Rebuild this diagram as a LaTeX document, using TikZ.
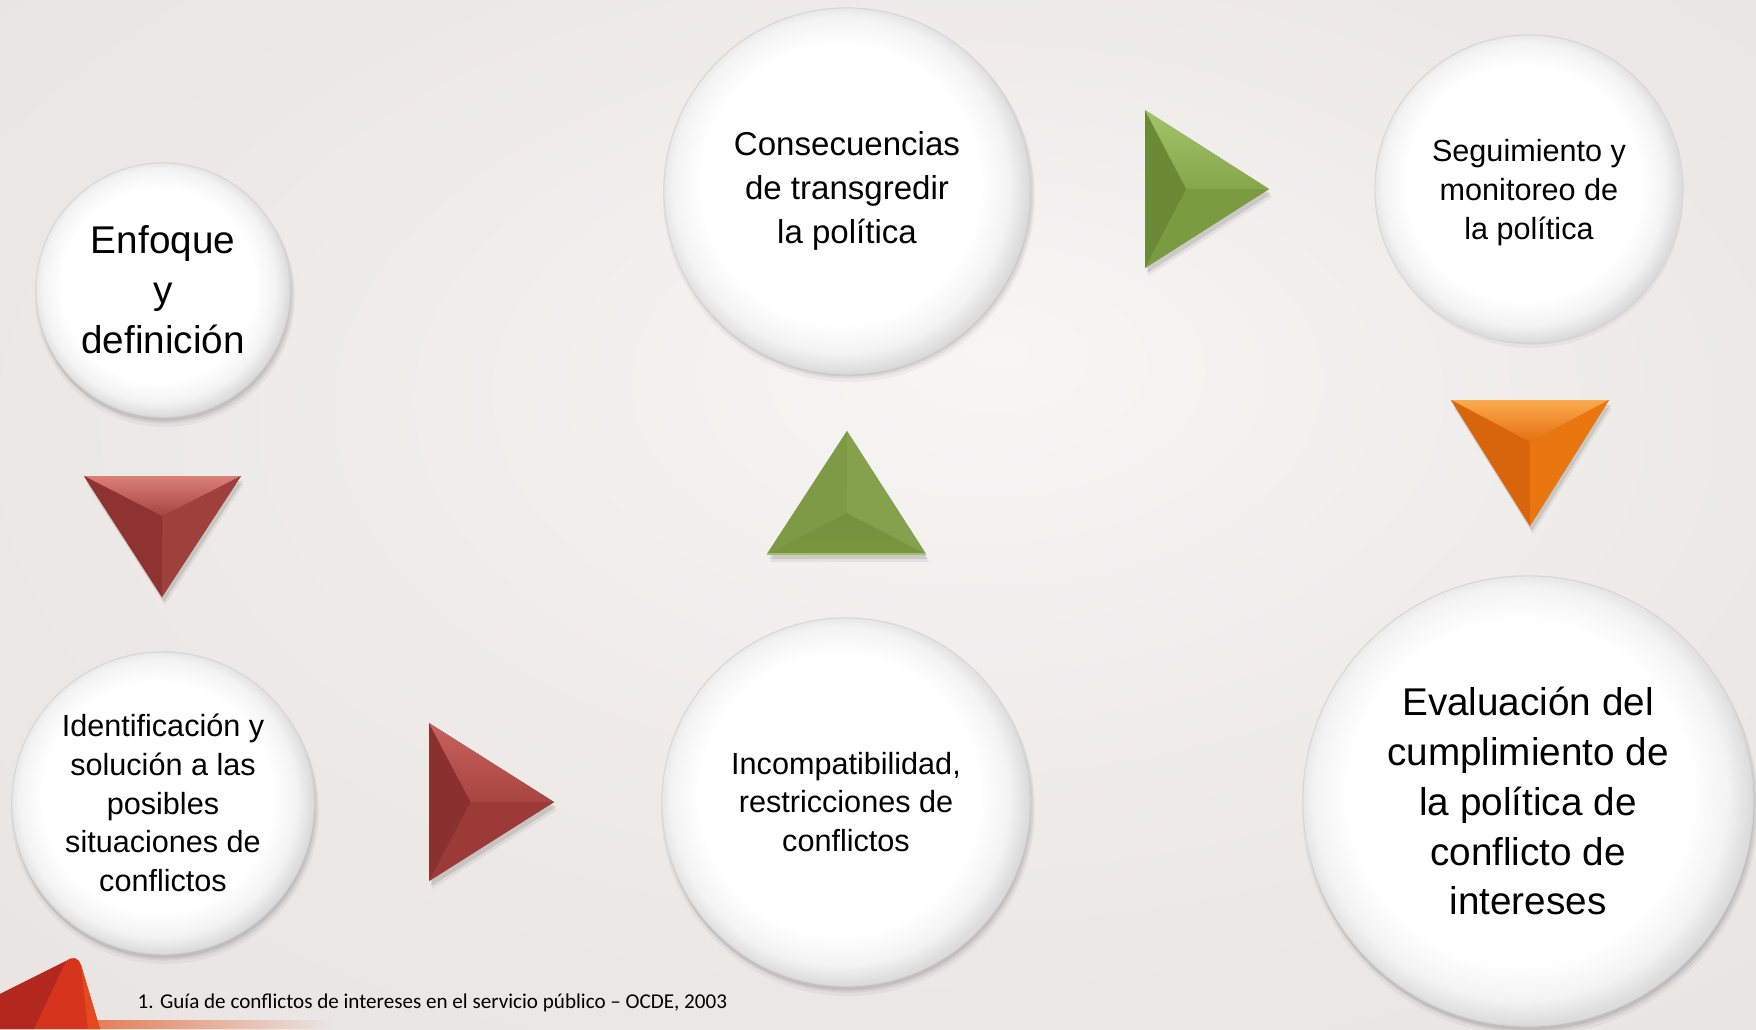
\documentclass[tikz,border=0pt]{standalone}
\usepackage{fontspec}
\setmainfont{Liberation Sans}
\newfontfamily\calib{Carlito}
\usetikzlibrary{fadings}
\definecolor{bgA}{HTML}{F7F6F4}
\definecolor{bgB}{HTML}{EBE8E5}
\definecolor{bgC}{HTML}{E4E1DE}
\definecolor{rimA}{HTML}{F3F3F3}
\definecolor{rimB}{HTML}{DCDCDC}
\definecolor{rimC}{HTML}{D6D6D6}
% red
\definecolor{redBase}{RGB}{154,58,55}
\definecolor{redLight}{RGB}{217,128,122}
\definecolor{redMid}{RGB}{165,67,63}
\definecolor{redDark}{RGB}{142,51,48}
\definecolor{redSide}{RGB}{160,64,60}
\definecolor{redDark2}{RGB}{138,48,46}
\definecolor{redLight2}{RGB}{201,98,92}
\definecolor{redMid2}{RGB}{168,69,65}
\definecolor{redLow}{RGB}{155,58,55}
% green
\definecolor{grBase}{RGB}{122,152,65}
\definecolor{grBotA}{RGB}{116,146,60}
\definecolor{grBotB}{RGB}{120,150,62}
\definecolor{grLeft}{RGB}{125,154,68}
\definecolor{grRight}{RGB}{132,162,75}
\definecolor{grEdge}{RGB}{160,192,108}
\definecolor{grDark}{RGB}{108,138,54}
\definecolor{grLight}{RGB}{163,196,106}
\definecolor{grMid}{RGB}{134,166,74}
\definecolor{grLow}{RGB}{123,155,65}
% orange
\definecolor{orBase}{RGB}{228,112,15}
\definecolor{orLight}{RGB}{251,170,78}
\definecolor{orLeft}{RGB}{216,101,12}
\definecolor{orRight}{RGB}{234,118,15}
% corner
\definecolor{cBand}{RGB}{229,84,30}
\definecolor{cMain}{RGB}{214,52,28}
\definecolor{cDark}{RGB}{178,40,30}
\definecolor{cLight}{RGB}{228,74,30}
\pgfdeclareradialshading{bgsh}{\pgfpoint{3.5bp}{8bp}}{color(0bp)=(bgA); color(25bp)=(bgB); color(50bp)=(bgC)}
\pgfdeclareradialshading{discsh}{\pgfpoint{-1.5bp}{1.5bp}}{color(0bp)=(white); color(19bp)=(white); color(23bp)=(rimA); color(25.5bp)=(rimB); color(50bp)=(rimB)}
\newcommand\bubshadow[3]{%
  \fill[black,opacity=.04] (#1+2,#2+7) circle[radius={(#3+3)*0.01cm}];
  \fill[black,opacity=.06] (#1+2,#2+5) circle[radius={(#3+1.5)*0.01cm}];
  \fill[black,opacity=.08] (#1+1,#2+4) circle[radius={(#3+0.3)*0.01cm}];}
\newcommand\deftri[4]{%
  \coordinate (#4a) at (#1); \coordinate (#4b) at (#2); \coordinate (#4c) at (#3);
  \coordinate (#4g) at (barycentric cs:#4a=1,#4b=1,#4c=1);
  \fill[black,opacity=.06] ([shift={(3,8)}]#4a) -- ([shift={(3,8)}]#4b) -- ([shift={(3,8)}]#4c) -- cycle;
  \fill[black,opacity=.10] ([shift={(2,5)}]#4a) -- ([shift={(2,5)}]#4b) -- ([shift={(2,5)}]#4c) -- cycle;}
\newcommand\facets[5]{%
  \fill[#2] (#1a) -- (#1b) -- (#1c) -- cycle;
  \path[#3] (#1a) -- (#1b) -- (#1g) -- cycle;
  \path[#4] (#1a) -- (#1c) -- (#1g) -- cycle;
  \path[#5] (#1b) -- (#1c) -- (#1g) -- cycle;}
\tikzset{
  bubble/.style={circle, shading=discsh, draw=rimC, line width=0.3pt, inner sep=0pt, align=center, text=black},
  smallt/.style={font=\fontsize{8.7}{11}\selectfont},
  midt/.style={font=\fontsize{9.4}{12.6}\selectfont},
  bigt/.style={font=\fontsize{11}{14.2}\selectfont},
  foot/.style={font=\calib\fontsize{6}{7}\selectfont, inner sep=0pt, anchor=base west, text=black}
}
\begin{document}
\begin{tikzpicture}[x=0.01cm, y=-0.01cm]
\useasboundingbox (0,0) rectangle (1756,1029);
% background
\fill[bgB] (0,0) rectangle (1756,1029);
\shade[shading=bgsh] (0,0) rectangle (1756,1029);

% shadows of the bubbles
\bubshadow{163}{290}{127}
\bubshadow{163}{803}{151}
\bubshadow{846}{802}{184}
\bubshadow{847}{189}{183}
\bubshadow{1529}{189}{149}
\bubshadow{1528}{801}{225}

% triangles (arrows)
\deftri{84,476}{241,476}{162,597}{ta}
\facets{ta}{fill=redBase}
  {top color=redLight, bottom color=redMid}
  {fill=redDark}
  {fill=redSide}

\deftri{429,723}{429,881}{554,802}{tb}
\facets{tb}{fill=redBase}
  {fill=redDark2}
  {top color=redLight2, bottom color=redMid2}
  {fill=redLow}

\deftri{767,554}{926,554}{847,431}{tc}
\facets{tc}{fill=grBase}
  {top color=grBotA, bottom color=grBotB}
  {fill=grLeft}
  {fill=grRight}
\draw[grEdge, line width=0.6pt] (tca) -- (tcb);

\deftri{1145,110}{1145,268}{1269,189}{td}
\facets{td}{fill=grBase}
  {fill=grDark}
  {top color=grLight, bottom color=grMid}
  {fill=grLow}

\deftri{1451,400}{1609,400}{1530,526}{te}
\facets{te}{fill=orBase}
  {top color=orLight, bottom color=orBase}
  {fill=orLeft}
  {fill=orRight}

% bubbles
\node[bubble, bigt, minimum size=2.54cm] (enf) at (163,290) {Enfoque\\y\\definición};
\node[bubble, smallt, minimum size=3.02cm] (ide) at (163,803) {Identificación y\\solución a las\\posibles\\situaciones de\\conflictos};
\node[bubble, smallt, minimum size=3.68cm] (inc) at (846,802) {Incompatibilidad,\\restricciones de\\conflictos};
\node[bubble, midt, minimum size=3.66cm] (con) at (847,191) {Consecuencias\\de transgredir\\la política};
\node[bubble, smallt, minimum size=2.98cm] (seg) at (1529,189) {\raisebox{-1pt}[\height][\depth]{\parbox{2.9cm}{\centering Seguimiento y\\monitoreo de\\la política}}};
\node[bubble, bigt, minimum size=4.5cm] (eva) at (1528,801) {Evaluación del\\cumplimiento de\\la política de\\conflicto de\\intereses};

% decorative corner shape
\fill[cBand, path fading=east] (0,1020) rectangle (330,1029);
\fill[cMain] (0,994) -- (66,961) .. controls (73,956) and (78,957) .. (81,965) -- (100,1029) -- (0,1029) -- cycle;
\fill[cDark] (0,994) -- (66,961) -- (34,1029) -- (0,1029) -- cycle;
\fill[cLight] (81,965) -- (100,1029) -- (88,1029) -- cycle;

% footnote
\node[foot] (fn) at (137,1008) {1. Guía de conflictos de intereses en el servicio público – OCDE, 2003};
\end{tikzpicture}
\end{document}
